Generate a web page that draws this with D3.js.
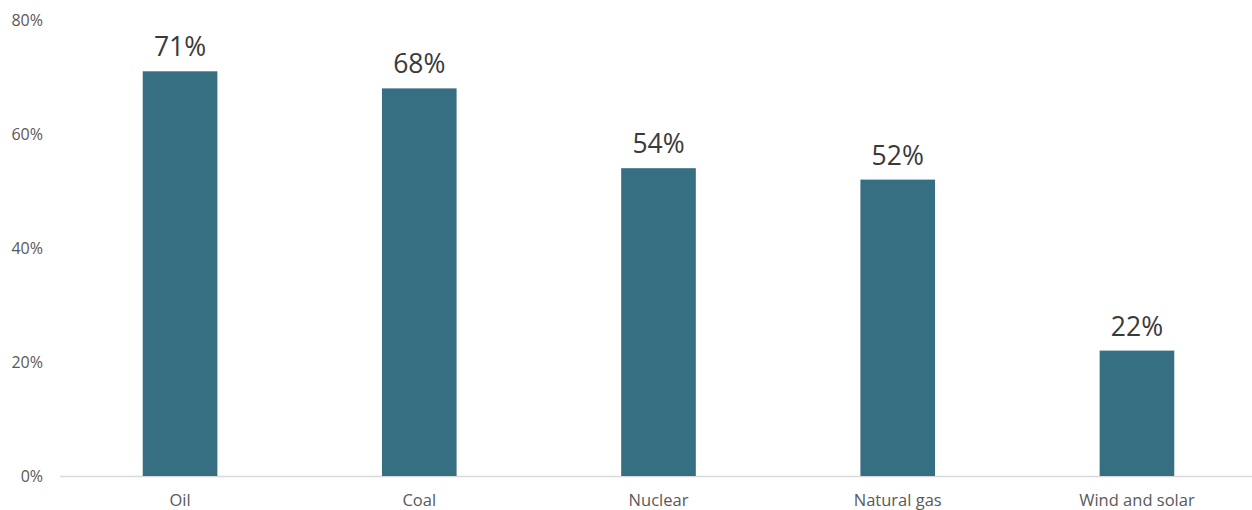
<!DOCTYPE html>
<html><head><meta charset="utf-8">
<script src="https://cdn.jsdelivr.net/npm/d3@7"></script>
<style>body{margin:0;background:#fff}svg{display:block}text{font-family:"Open Sans",sans-serif}</style>
</head><body><svg id="c" width="1252" height="510"></svg>
<script>
const categories = ["Oil","Coal","Nuclear","Natural gas","Wind and solar"];
const values = [71,68,54,52,22];
const yTicks = [0,20,40,60,80];

const svg = d3.select("#c");
const x = d3.scaleBand().domain(categories).range([59,1258]).paddingInner(0.688).paddingOuter(0.35);
const y = d3.scaleLinear().domain([0,80]).range([476,20]);

// y tick labels
svg.append("g").selectAll("text").data(yTicks).join("text")
  .attr("x",43).attr("y",d=>y(d)).attr("dy","0.35em")
  .attr("text-anchor","end").attr("font-size",16).attr("fill","#595959")
  .text(d=>d+"%");

// baseline
svg.append("line").attr("x1",60).attr("x2",1252).attr("y1",y(0)+0.5).attr("y2",y(0)+0.5)
  .attr("stroke","#d9d9d9").attr("stroke-width",1.5);

// bars
svg.append("g").selectAll("rect").data(values).join("rect")
  .attr("x",(d,i)=>x(categories[i])).attr("width",x.bandwidth())
  .attr("y",d=>y(d)).attr("height",d=>y(0)-y(d))
  .attr("fill","#366e82");

// value labels
svg.append("g").selectAll("text").data(values).join("text")
  .attr("x",(d,i)=>x(categories[i])+x.bandwidth()/2).attr("y",d=>y(d)-15)
  .attr("text-anchor","middle").attr("font-size",26.5).attr("fill","#3a3a3a")
  .text(d=>d+"%");

// category labels
svg.append("g").selectAll("text").data(categories).join("text")
  .attr("x",d=>x(d)+x.bandwidth()/2).attr("y",506)
  .attr("text-anchor","middle").attr("font-size",16.5).attr("fill","#595959")
  .text(d=>d);
</script></body></html>
